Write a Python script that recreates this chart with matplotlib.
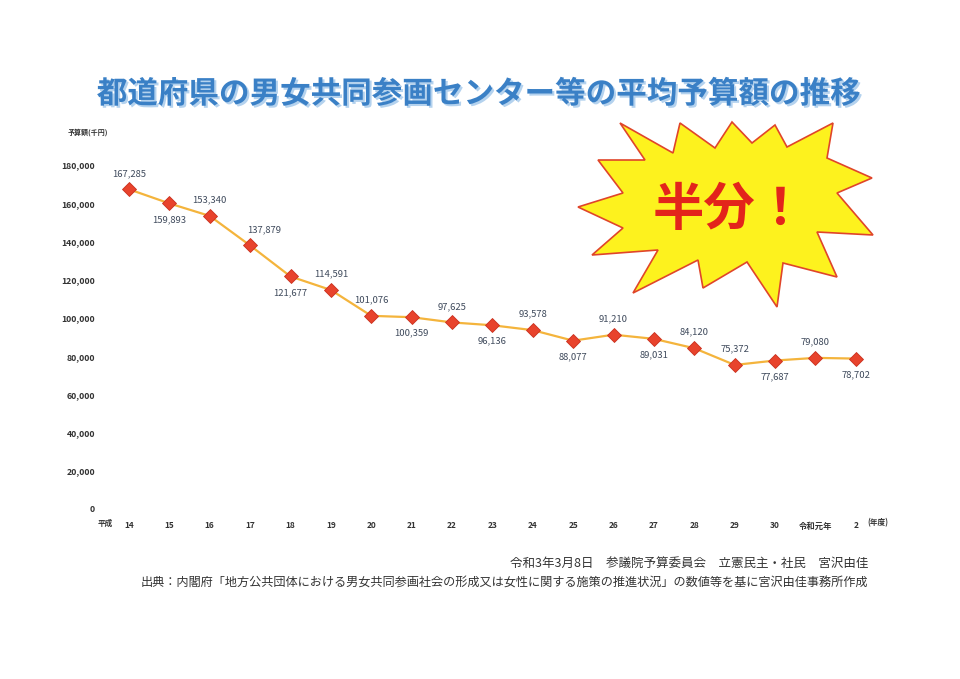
import matplotlib
matplotlib.use('Agg')
import matplotlib.pyplot as plt
import matplotlib.patheffects as pe
from matplotlib.patches import Polygon

plt.rcParams['font.family'] = ['Noto Sans CJK JP', 'DejaVu Sans']

# data
years = ['14', '15', '16', '17', '18', '19', '20', '21', '22', '23', '24',
         '25', '26', '27', '28', '29', '30', '令和元年', '2']
budget = [167285, 159893, 153340, 137879, 121677, 114591, 101076, 100359,
          97625, 96136, 93578, 88077, 91210, 89031, 84120, 75372, 77687,
          79080, 78702]
# label above (1) or below (-1) the point
label_side = [1, -1, 1, 1, -1, 1, 1, -1, 1, -1, 1, -1, 1, -1, 1, 1, -1, 1, -1]
yticks = [0, 20000, 40000, 60000, 80000, 100000, 120000, 140000, 160000, 180000]

W, H = 960, 679
fig = plt.figure(figsize=(W / 100, H / 100), dpi=100)
ax = fig.add_axes([108.8 / W, 1 - 509 / H, (876 - 108.8) / W, (509 - 165) / H])

x = list(range(len(years)))
ax.plot(x, budget, color='#f4b43c', lw=1.6, zorder=2)
ax.plot(x, budget, ls='none', marker='D', ms=7, mfc='#e8432c',
        mec='#c9301e', mew=0.6, zorder=3)

for i, v in enumerate(budget):
    dx = 0
    if i == 3:
        dx = 10
    ax.annotate(f'{v:,}', (i, v), xytext=(dx, 11.5 * label_side[i]),
                textcoords='offset points', ha='center', va='center',
                fontsize=6.8, color='#3f4a5c')

ax.set_xlim(-0.5, len(years) - 0.5)
ax.set_ylim(0, 180000)
ax.set_yticks(yticks)
ax.set_yticklabels([f'{t:,}' for t in yticks], fontsize=6.3, fontweight='bold',
                   color='#333333')
ax.set_xticks(x)
ax.set_xticklabels(years, fontsize=6, fontweight='bold', color='#333333')
ax.tick_params(length=0, pad=9)
ax.tick_params(axis='y', pad=10)
for s in ax.spines.values():
    s.set_visible(False)

# extra axis texts
fig.text(105 / W, 1 - 523 / H, '平成', fontsize=5.5, fontweight='bold',
         ha='center', va='center', color='#333333')
fig.text(878 / W, 1 - 523 / H, '(年度)', fontsize=5.5, fontweight='bold',
         ha='center', va='center', color='#333333')
fig.text(68 / W, 1 - 132 / H, '予算額(千円)', fontsize=5, fontweight='bold',
         ha='left', va='center', color='#333333')

# title
fig.text(478 / W, 1 - 94 / H, '都道府県の男女共同参画センター等の平均予算額の推移',
         fontsize=22, fontweight='bold', color='#3a80c6', ha='center',
         va='center',
         path_effects=[pe.SimplePatchShadow(offset=(1.5, -1.5),
                                            shadow_rgbFace='#b4d2ee', alpha=1),
                       pe.Normal()])

# starburst callout
burst = [(620, 123), (673, 153), (680, 123), (715, 148), (732, 122),
         (752, 143), (775, 125), (787, 147), (833, 123), (827, 158),
         (872, 178), (837, 193), (873, 235), (817, 232), (837, 277),
         (783, 263), (777, 307), (747, 262), (703, 288), (698, 260),
         (633, 293), (658, 250), (592, 255), (623, 228), (578, 207),
         (623, 193), (598, 160), (645, 160)]
poly = Polygon([(px / W, 1 - py / H) for px, py in burst], closed=True,
               transform=fig.transFigure, facecolor='#fdf21e',
               edgecolor='#e0452a', lw=1.2, zorder=5)
fig.patches.append(poly)
fig.text(730 / W, 1 - 210 / H, '半分！', fontsize=37, fontweight='bold',
         color='#e3241b', ha='center', va='center', zorder=6)

# footer
fig.text(868 / W, 1 - 563 / H,
         '令和3年3月8日　参議院予算委員会　立憲民主・社民　宮沢由佳',
         fontsize=9, color='#333333', ha='right', va='center')
fig.text(868 / W, 1 - 582 / H,
         '出典：内閣府「地方公共団体における男女共同参画社会の形成又は女性に関する施策の推進状況」の数値等を基に宮沢由佳事務所作成',
         fontsize=8.75, color='#333333', ha='right', va='center')

fig.savefig('out.png', dpi=100)
